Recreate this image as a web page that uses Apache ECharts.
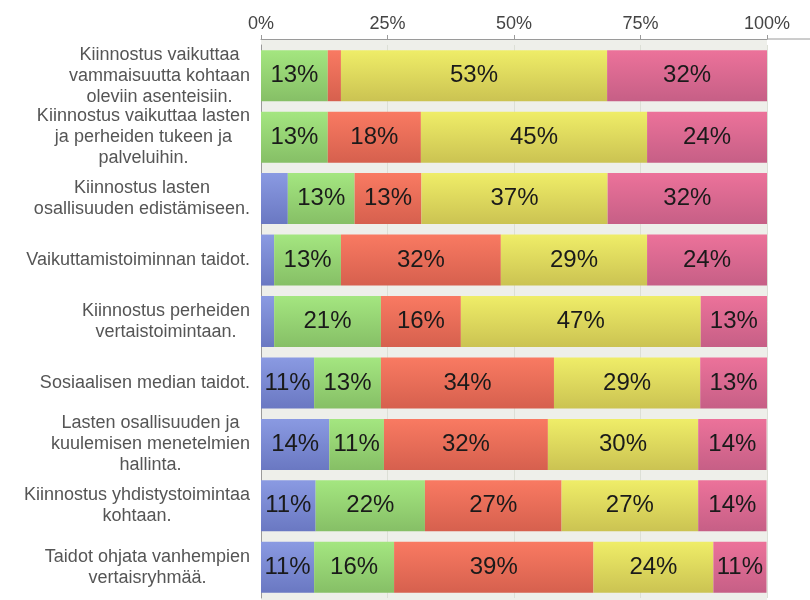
<!DOCTYPE html>
<html><head><meta charset="utf-8">
<script src="https://cdn.jsdelivr.net/npm/echarts@6/dist/echarts.min.js"></script>
<style>html,body{margin:0;padding:0;background:#fff}#c{width:810px;height:600px}</style>
</head><body><div id="c"></div>
<script>
var categories = [
  "Kiinnostus vaikuttaa\nvammaisuutta kohtaan\noleviin asenteisiin.",
  "Kiinnostus vaikuttaa lasten\nja perheiden tukeen ja\npalveluihin.",
  "Kiinnostus lasten\nosallisuuden edistämiseen.",
  "Vaikuttamistoiminnan taidot.",
  "Kiinnostus perheiden\nvertaistoimintaan.",
  "Sosiaalisen median taidot.",
  "Lasten osallisuuden ja\nkuulemisen menetelmien\nhallinta.",
  "Kiinnostus yhdistystoimintaa\nkohtaan.",
  "Taidot ohjata vanhempien\nvertaisryhmää."
];
var tickLabels = ["0%", "25%", "50%", "75%", "100%"];
var blueValues   = [0, 0, 5.3, 2.6, 2.6, 10.5, 13.5, 10.8, 10.5];
var greenValues  = [13.2, 13.2, 13.2, 13.2, 21.1, 13.2, 10.8, 21.6, 15.8];
var redValues    = [2.6, 18.4, 13.2, 31.6, 15.8, 34.2, 32.4, 27.0, 39.4];
var yellowValues = [52.6, 44.7, 36.8, 28.9, 47.4, 28.9, 29.7, 27.0, 23.7];
var pinkValues   = [31.6, 23.7, 31.6, 23.7, 13.2, 13.2, 13.5, 13.5, 10.5];

var chart = echarts.init(document.getElementById('c'), null, {renderer: 'canvas'});
function grad(top, bottom) {
  return new echarts.graphic.LinearGradient(0, 0, 0, 1, [
    {offset: 0, color: top}, {offset: 1, color: bottom}
  ]);
}
var FONT = 'Liberation Sans';
function mk(name, data, top, bottom) {
  return {
    name: name, type: 'bar', stack: 'all', data: data,
    barCategoryGap: '17%',
    itemStyle: {color: grad(top, bottom)},
    label: {
      show: true, position: 'inside', color: '#1a1a1a',
      fontFamily: FONT, fontSize: 24,
      formatter: function (p) { return p.value < 6 ? '' : Math.round(p.value) + '%'; }
    },
    emphasis: {disabled: true}
  };
}
chart.setOption({
  animation: false,
  backgroundColor: '#ffffff',
  graphic: [
    {type: 'rect', z: -10, shape: {x: 261, y: 39, width: 506, height: 561}, style: {fill: '#eeefea'}},
    {type: 'line', z: 5, shape: {x1: 767, y1: 39, x2: 810, y2: 39}, style: {stroke: '#9a9a9a', lineWidth: 1}}
  ],
  grid: {left: 261, right: 43, top: 45, bottom: 2, containLabel: false},
  xAxis: {
    type: 'value', position: 'top', min: 0, max: 100, interval: 25, offset: 6,
    axisLine: {show: true, lineStyle: {color: '#9a9a9a'}},
    axisTick: {show: true, length: 4, lineStyle: {color: '#9a9a9a'}},
    axisLabel: {
      color: '#444', fontFamily: FONT, fontSize: 18, margin: 6,
      formatter: function (v) { return tickLabels[Math.round(v / 25)]; }
    },
    splitLine: {show: true, lineStyle: {color: '#dcdfd6'}}
  },
  yAxis: {
    type: 'category', inverse: true, data: categories,
    axisLine: {show: true, lineStyle: {color: '#9a9a9a'}},
    axisTick: {show: false},
    axisLabel: {
      interval: 0, hideOverlap: false,
      margin: 11, color: '#555', fontFamily: FONT, fontSize: 18, lineHeight: 21,
      formatter: function (v) {
        return v.split('\n').map(function (l) { return '{c|' + l + '}'; }).join('\n');
      },
      rich: {c: {align: 'center', fontFamily: FONT, fontSize: 18, lineHeight: 21, color: '#555'}}
    }
  },
  series: [
    mk('1', blueValues, '#8a9ae2', '#6a78c2'),
    mk('2', greenValues, '#a4e680', '#86bf66'),
    mk('3', redValues, '#f97a62', '#d6604e'),
    mk('4', yellowValues, '#efed68', '#cbc352'),
    mk('5', pinkValues, '#ec729a', '#c65f86')
  ]
});
</script></body></html>
